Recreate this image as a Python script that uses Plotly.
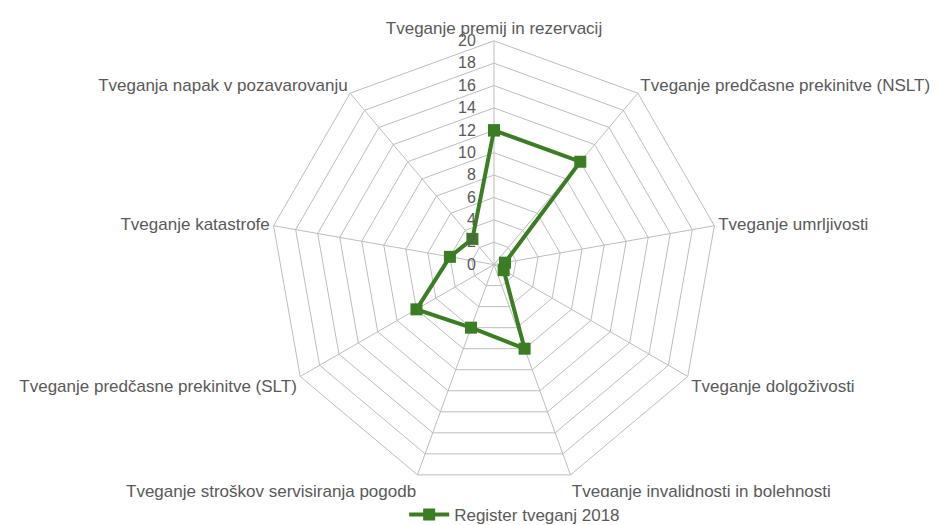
import plotly.graph_objects as go

categories = [
    "Tveganje premij in rezervacij",
    "Tveganje predčasne prekinitve (NSLT)",
    "Tveganje umrljivosti",
    "Tveganje dolgoživosti",
    "Tveganje invalidnosti in bolehnosti",
    "Tveganje stroškov servisiranja pogodb",
    "Tveganje predčasne prekinitve (SLT)",
    "Tveganje katastrofe",
    "Tveganja napak v pozavarovanju",
]
values_2018 = [12, 12, 1, 1, 8, 6, 8, 4, 3]
radial_ticks = list(range(0, 21, 2))

green = "#3a7d22"
grid = "#bdbdbd"
text_col = "#595959"

fig = go.Figure()
fig.add_trace(go.Scatterpolar(
    r=values_2018 + values_2018[:1],
    theta=categories + categories[:1],
    mode="lines+markers",
    name="Register tveganj 2018",
    line={"color": green, "width": 4},
    marker={"symbol": "square", "size": 12, "color": green},
))

fig.update_layout(
    width=940,
    height=525,
    paper_bgcolor="white",
    plot_bgcolor="white",
    font={"family": "Liberation Sans, Arial, sans-serif", "size": 17, "color": text_col},
    margin={"t": 0, "b": 0, "l": 0, "r": 0},
    showlegend=True,
    legend={"orientation": "h", "x": 0.539, "xanchor": "center", "y": -0.008, "yanchor": "bottom",
            "itemwidth": 40, "font": {"size": 17, "color": text_col}},
    polar={
        "domain": {"x": [0.277, 0.757], "y": [0.078, 0.937]},
        "bgcolor": "white",
        "gridshape": "linear",
        "angularaxis": {
            "rotation": 90,
            "direction": "clockwise",
            "gridcolor": grid,
            "linecolor": grid,
            "showline": True,
            "ticks": "",
            "tickfont": {"size": 17, "color": text_col},
        },
        "radialaxis": {
            "range": [0, 20],
            "tickvals": radial_ticks,
            "angle": 90,
            "tickangle": 90,
            "side": "counterclockwise",
            "gridcolor": grid,
            "showline": False,
            "ticks": "outside",
            "ticklen": 12,
            "tickcolor": "rgba(0,0,0,0)",
            "tickfont": {"size": 16, "color": text_col},
        },
    },
)

fig.write_html("out.html")
